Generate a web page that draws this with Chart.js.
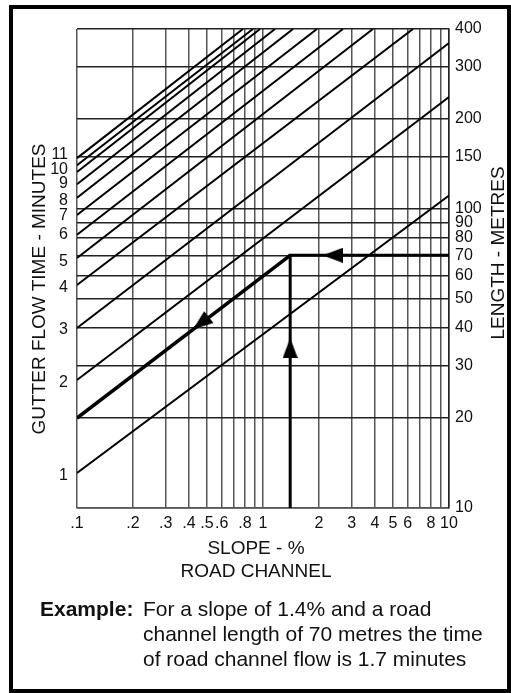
<!DOCTYPE html>
<html>
<head>
<meta charset="utf-8">
<script src="https://cdn.jsdelivr.net/npm/chart.js@4.4.1/dist/chart.umd.min.js"></script>
<style>
    body { margin: 0; background: #fff; font-family: "Liberation Sans", Arial, sans-serif; color: #111; }
    #contenedor { position: relative; width: 511px; height: 693px; overflow: hidden; }
    #marco { position: absolute; left: 9px; top: 5px; width: 494px; height: 680px; border: 4px solid #000; }
    #grafica { position: absolute; left: 0; top: 0; }
    .titulo { position: absolute; white-space: nowrap; font-size: 19px; line-height: 23px; }
    .girado { transform: translate(-50%, -50%) rotate(-90deg); }
    #ejemplo { position: absolute; left: 40px; top: 596px; font-size: 21px; line-height: 25px; white-space: nowrap; }
    #ejemplo-texto { position: absolute; left: 143px; top: 596px; font-size: 21px; line-height: 25px; white-space: nowrap; }
</style>
</head>
<body>
<div id="contenedor">
    <canvas id="grafica" width="511" height="693"></canvas>
    <div id="marco"></div>
    <div class="titulo girado" style="left:38px; top:289px;">GUTTER FLOW TIME - MINUTES</div>
    <div class="titulo girado" style="left:497px; top:253px;">LENGTH - METRES</div>
    <div class="titulo" style="left:256px; top:536px; transform: translateX(-50%); text-align:center;">SLOPE - %<br>ROAD CHANNEL</div>
    <div id="ejemplo"><b>Example:</b></div>
    <div id="ejemplo-texto">For a slope of 1.4% and a road<br>channel length of 70 metres the time<br>of road channel flow is 1.7 minutes</div>
</div>
<script>
// Ejes: pendiente (%) y longitud (m), ambos logarítmicos
const pendienteTicks = [0.1, 0.2, 0.3, 0.4, 0.5, 0.6, 0.7, 0.8, 0.9, 1, 2, 3, 4, 5, 6, 7, 8, 9, 10];
const pendienteEtiquetas = ['.1', '.2', '.3', '.4', '.5', '.6', '', '.8', '', '1', '2', '3', '4', '5', '6', '', '8', '', '10'];
const longitudTicks = [10, 20, 30, 40, 50, 60, 70, 80, 90, 100, 150, 200, 300, 400];
const longitudEtiquetas = ['10', '20', '30', '40', '50', '60', '70', '80', '90', '100', '150', '200', '300', '400'];

// Etiquetas de minutos a la izquierda (posición expresada en metros sobre pendiente .1)
const minutosEtiquetas = ['1', '2', '3', '4', '5', '6', '7', '8', '9', '10', '11'];
const minutosPosicion = [12.8, 26.2, 39.4, 54.5, 66.6, 81.9, 94.8, 107, 122, 135, 152];

const lineaInicioLong = [13.1, 26.8, 40.0, 55.7, 68.6, 82, 95.5, 109, 121, 133, 140, 148];
const lineaFinPend = [10, 10, 10, 6.4, 3.9, 2.69, 1.95, 1.45, 1.16, 0.964, 0.883, 0.78];
const lineaFinLong = [111, 237, 359, 400, 400, 400, 400, 400, 400, 400, 400, 400];

// Ejemplo: pendiente 1.4%, longitud 70 m -> 1.7 minutos
const ejemploPend = 1.4;
const ejemploLong = 70;
const ejemploInicioLong = 20;

// Flechas del ejemplo
const flechaPend = [2.37, 1.4, 0.464];
const flechaLong = [70, 34.3, 41.5];
const flechaGiro = [270, 0, 232];

// Punta de flecha alargada para usarla como pointStyle
function crearFlecha() {
    const c = document.createElement('canvas');
    c.width = 15;
    c.height = 20;
    const g = c.getContext('2d');
    g.fillStyle = '#000';
    g.beginPath();
    g.moveTo(7.5, 0);
    g.lineTo(15, 20);
    g.lineTo(0, 20);
    g.closePath();
    g.fill();
    return c;
}

Chart.defaults.font.family = '"Liberation Sans", Arial, sans-serif';

let datasets = [];

// Flechas (primero para que queden encima)
datasets.push({
    data: flechaPend.map((p, i) => ({ x: p, y: flechaLong[i] })),
    showLine: false,
    pointStyle: crearFlecha(),
    pointRotation: flechaGiro,
    pointRadius: 6,
    yAxisID: 'y'
});

// Recorrido del ejemplo
datasets.push({
    data: [{ x: 0.1, y: ejemploInicioLong }, { x: ejemploPend, y: ejemploLong }],
    borderColor: '#000', borderWidth: 3.5, pointRadius: 0, yAxisID: 'y'
});
datasets.push({
    data: [{ x: ejemploPend, y: 10 }, { x: ejemploPend, y: ejemploLong }, { x: 10, y: ejemploLong }],
    borderColor: '#000', borderWidth: 3, pointRadius: 0, yAxisID: 'y'
});

// Líneas de tiempo
lineaInicioLong.forEach((l0, i) => {
    datasets.push({
        data: [{ x: 0.1, y: l0 }, { x: lineaFinPend[i], y: lineaFinLong[i] }],
        borderColor: '#000', borderWidth: 2, pointRadius: 0, yAxisID: 'y'
    });
});

new Chart(document.getElementById('grafica'), {
    type: 'line',
    data: { datasets: datasets },
    options: {
        responsive: false,
        animation: false,
        devicePixelRatio: 1,
        layout: { padding: { top: 29, right: 0, bottom: 155, left: 0 } },
        plugins: { legend: { display: false }, tooltip: { enabled: false } },
        scales: {
            x: {
                type: 'logarithmic',
                min: 0.1,
                max: 10,
                afterBuildTicks: ax => { ax.ticks = pendienteTicks.map(v => ({ value: v })); },
                afterFit: ax => { ax.height = 30; },
                grid: { color: '#555', lineWidth: 1.5, drawTicks: false },
                border: { color: '#555', width: 1.5 },
                ticks: {
                    autoSkip: false, maxRotation: 0, minRotation: 0, padding: 6,
                    color: '#111', font: { size: 16 },
                    callback: (v, i) => pendienteEtiquetas[i]
                }
            },
            y: {
                type: 'logarithmic',
                position: 'right',
                min: 10,
                max: 400,
                afterBuildTicks: ax => { ax.ticks = longitudTicks.map(v => ({ value: v })); },
                afterFit: ax => { ax.width = 62; },
                grid: { color: '#222', lineWidth: 1.5, drawTicks: false },
                border: { color: '#222', width: 1.5 },
                ticks: {
                    autoSkip: false, padding: 6, color: '#111', font: { size: 16 },
                    callback: (v, i) => longitudEtiquetas[i]
                }
            },
            yMin: {
                type: 'logarithmic',
                position: 'left',
                min: 10,
                max: 400,
                afterBuildTicks: ax => { ax.ticks = minutosPosicion.map(v => ({ value: v })); },
                afterFit: ax => { ax.width = 77; },
                grid: { display: false, drawTicks: false },
                border: { display: false },
                ticks: {
                    autoSkip: false, padding: 9, color: '#111', font: { size: 16 },
                    callback: (v, i) => minutosEtiquetas[i]
                }
            }
        }
    }
});
</script>
</body>
</html>
